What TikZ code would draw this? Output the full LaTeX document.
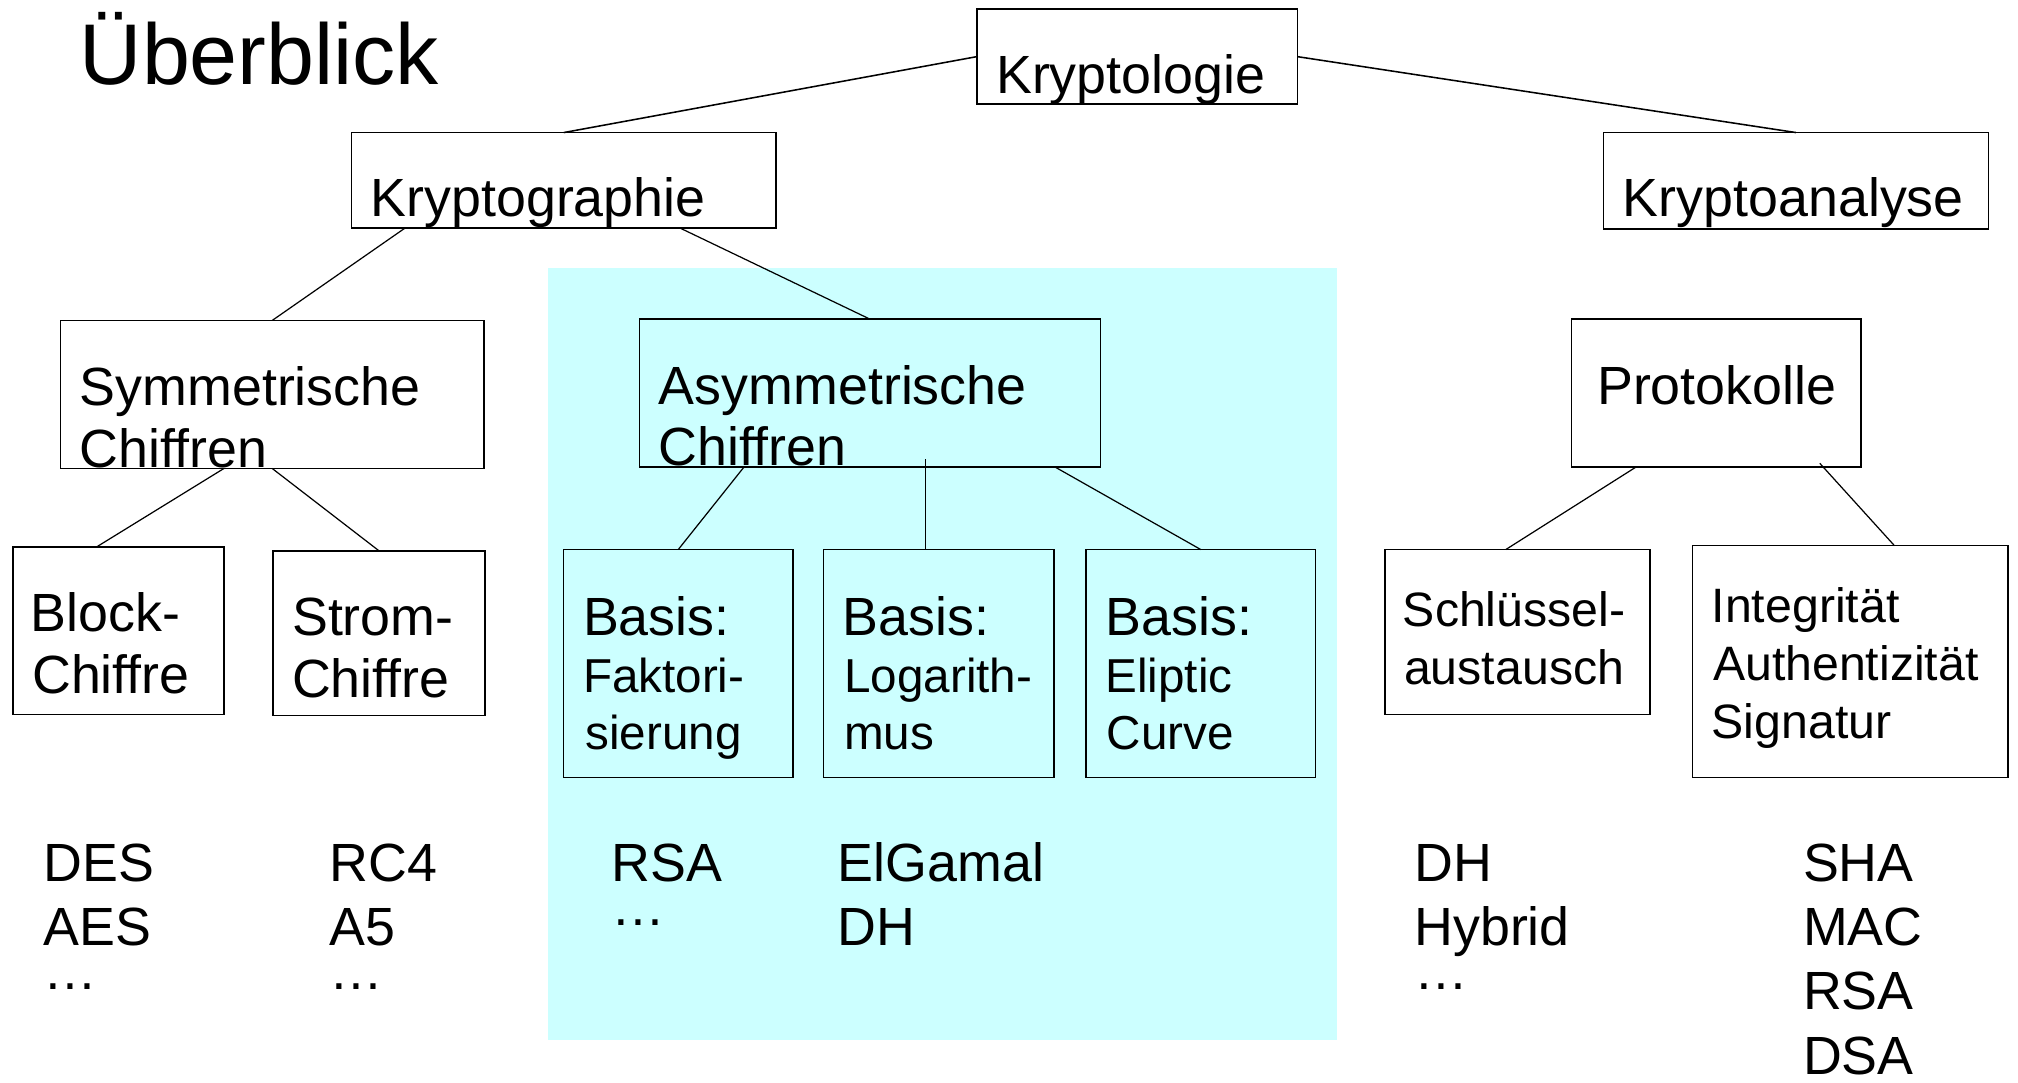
\documentclass[tikz,border=0pt]{standalone}
\usepackage{fontspec}
\setmainfont{Liberation Sans}
\usetikzlibrary{calc}
\definecolor{asymbg}{RGB}{204,255,255}
\newcommand\fstitle{\fontsize{67}{78}\selectfont}
\newcommand\fsmain{\fontsize{41.8}{48}\selectfont}
\newcommand\fssub{\fontsize{37}{44}\selectfont}
\newcommand\fsprot{\fontsize{37.5}{45}\selectfont}
\begin{document}
\begin{tikzpicture}[x=1pt,y=-1pt,
  box/.style={draw=black,line width=1.2pt,rectangle,inner sep=0pt,outer sep=0pt,anchor=north west},
  txt/.style={anchor=base west,inner sep=0pt,outer sep=0pt},
  edge/.style={line width=1.2pt},
  subedge/.style={line width=0.95pt}]
\useasboundingbox (0,0) rectangle (1568,841);
\fill[white] (0,0) rectangle (1568,841);

% shaded area for the asymmetric branch
\fill[asymbg] (426,208) rectangle (1039,808);

% title
\node[txt] (title) at (62,66) {\fstitle Überblick};

% boxes
\node[box,minimum width=249pt,minimum height=74pt]  (kl) at (759,7)    {};
\node[box,minimum width=330pt,minimum height=74pt]  (kg) at (273,103)  {};
\node[box,minimum width=299pt,minimum height=75pt]  (ka) at (1246,103) {};
\node[box,minimum width=329pt,minimum height=115pt] (sy) at (47,249)   {};
\node[box,minimum width=358pt,minimum height=115pt] (as) at (497,248)  {};
\node[box,minimum width=225pt,minimum height=115pt] (pr) at (1221,248) {};
\node[box,minimum width=164pt,minimum height=130pt] (bl) at (10,425)   {};
\node[box,minimum width=165pt,minimum height=128pt] (st) at (212,428)  {};
\node[box,minimum width=178pt,minimum height=177pt] (fa) at (438,427)  {};
\node[box,minimum width=179pt,minimum height=177pt] (lo) at (640,427)  {};
\node[box,minimum width=178pt,minimum height=177pt] (el) at (844,427)  {};
\node[box,minimum width=206pt,minimum height=128pt] (sc) at (1076,427) {};
\node[box,minimum width=245pt,minimum height=180pt] (in) at (1315,424) {};

% box labels
\node[txt] (kl-t) at (774,73)  {\fsmain Kryptologie};
\node[txt] (kg-t) at (288,168) {\fsmain Kryptographie};
\node[txt] (ka-t) at (1261,168) {\fsmain Kryptoanalyse};
\node[txt] (sy-t1) at (62,315) {\fsmain Symmetrische};
\node[txt] (sy-t2) at (62,363) {\fsmain Chiffren};
\node[txt] (as-t1) at (512,314) {\fsmain Asymmetrische};
\node[txt] (as-t2) at (512,362) {\fsmain Chiffren};
\node[txt] (pr-t) at (1241,314) {\fsmain Protokolle};
\node[txt] (bl-t1) at (24,491) {\fsmain Block-};
\node[txt] (bl-t2) at (25,539) {\fsmain Chiffre};
\node[txt] (st-t1) at (227,494) {\fsmain Strom-};
\node[txt] (st-t2) at (227,542) {\fsmain Chiffre};
\node[txt] (fa-t1) at (453,494) {\fsmain Basis:};
\node[txt] (fa-t2) at (453,538) {\fssub Faktori-};
\node[txt] (fa-t3) at (455,582) {\fssub sierung};
\node[txt] (lo-t1) at (655,494) {\fsmain Basis:};
\node[txt] (lo-t2) at (656,538) {\fssub Logarith-};
\node[txt] (lo-t3) at (656,582) {\fssub mus};
\node[txt] (el-t1) at (859,494) {\fsmain Basis:};
\node[txt] (el-t2) at (859,538) {\fssub Eliptic};
\node[txt] (el-t3) at (860,582) {\fssub Curve};
\node[txt] (sc-t1) at (1090,487) {\fsprot Schlüssel-};
\node[txt] (sc-t2) at (1091,532) {\fsprot austausch};
\node[txt] (in-t1) at (1330,484) {\fsprot Integrität};
\node[txt] (in-t2) at (1331,529) {\fsprot Authentizität};
\node[txt] (in-t3) at (1330,574) {\fsprot Signatur};

% examples under each leaf
\node[txt] (ex1a) at (34,685)  {\fsmain DES};
\node[txt] (ex1b) at (34,735)  {\fsmain AES};
\node[txt] (ex1c) at (34,769)  {\fsmain …};
\node[txt] (ex2a) at (256,685) {\fsmain RC4};
\node[txt] (ex2b) at (256,735) {\fsmain A5};
\node[txt] (ex2c) at (256,769) {\fsmain …};
\node[txt] (ex3a) at (475,685) {\fsmain RSA};
\node[txt] (ex3b) at (475,719) {\fsmain …};
\node[txt] (ex4a) at (651,685) {\fsmain ElGamal};
\node[txt] (ex4b) at (651,735) {\fsmain DH};
\node[txt] (ex5a) at (1099,685) {\fsmain DH};
\node[txt] (ex5b) at (1099,735) {\fsmain Hybrid};
\node[txt] (ex5c) at (1099,769) {\fsmain …};
\node[txt] (ex6a) at (1401,685) {\fsmain SHA};
\node[txt] (ex6b) at (1401,735) {\fsmain MAC};
\node[txt] (ex6c) at (1401,784) {\fsmain RSA};
\node[txt] (ex6d) at (1401,835) {\fsmain DSA};

% connectors
\draw[edge] (kl.west) -- (kg.north);
\draw[edge] (kl.east) -- (ka.north);
\draw[subedge] ([xshift=-123pt]kg.south) -- (sy.north);
\draw[subedge] ([xshift=90pt]kg.south) -- (as.north);
\draw[subedge] ([xshift=-37.5pt]sy.south) -- ([xshift=-17pt]bl.north);
\draw[subedge] (sy.south) -- (st.north);
\draw[subedge] ([xshift=-98pt]as.south) -- (fa.north);
\draw[subedge] ([xshift=43pt,yshift=6pt]as.south) -- ([xshift=-10.5pt]lo.north);
\draw[subedge] ([xshift=144pt]as.south) -- (el.north);
\draw[subedge] ([xshift=-62.5pt]pr.south) -- ([xshift=-9pt]sc.north);
\draw[subedge] ([xshift=80.5pt,yshift=3pt]pr.south) -- ([xshift=34.5pt]in.north);
\end{tikzpicture}
\end{document}
